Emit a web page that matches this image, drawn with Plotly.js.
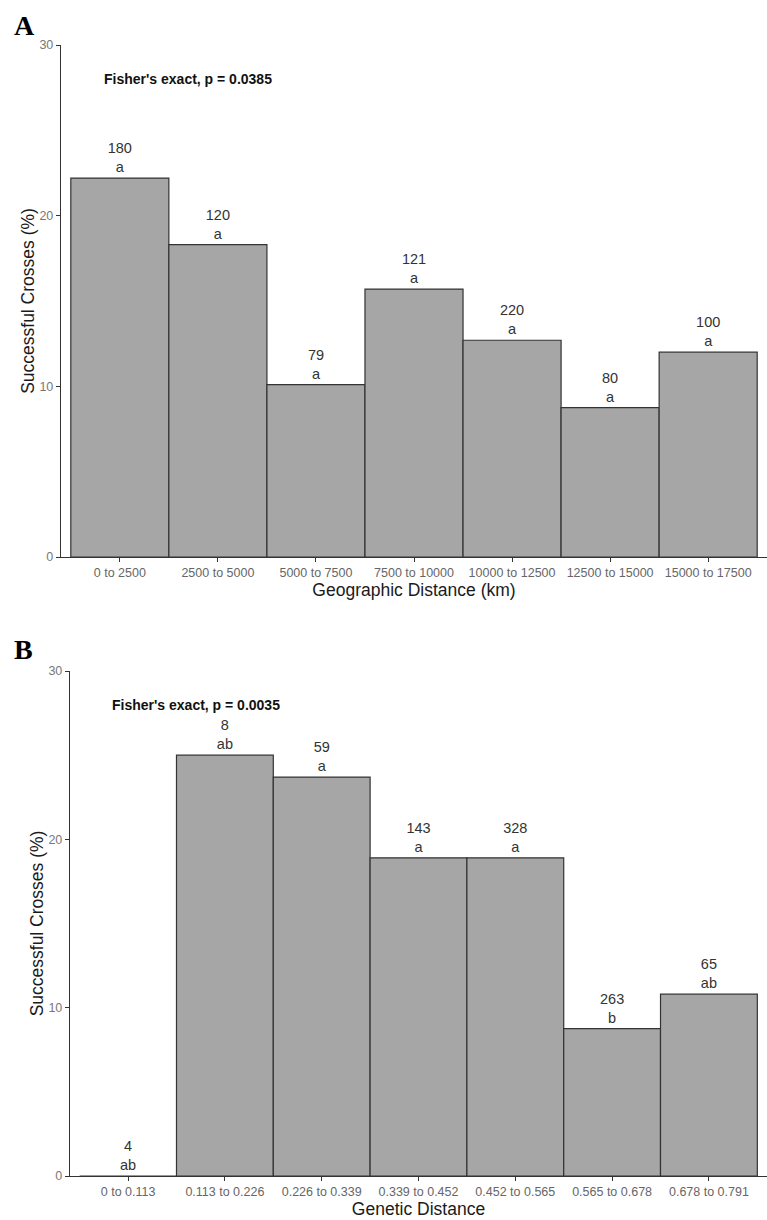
<!DOCTYPE html>
<html>
<head>
<meta charset="utf-8">
<script src="https://cdn.plot.ly/plotly-3.0.1.min.js"></script>
<style>
  html, body { margin: 0; padding: 0; background: #fff; }
  #chart { width: 767px; height: 1220px; }
</style>
</head>
<body>
<div id="chart"></div>
<script>
// Panel A: success rate of crosses binned by geographic distance
const geoBins = ["0 to 2500", "2500 to 5000", "5000 to 7500", "7500 to 10000",
                 "10000 to 12500", "12500 to 15000", "15000 to 17500"];
const geoPct = [22.2, 18.3, 10.1, 15.7, 12.7, 8.75, 12.0];
const geoN = [180, 120, 79, 121, 220, 80, 100];
const geoGroup = ["a", "a", "a", "a", "a", "a", "a"];

// Panel B: success rate of crosses binned by genetic distance
const genBins = ["0 to 0.113", "0.113 to 0.226", "0.226 to 0.339", "0.339 to 0.452",
                 "0.452 to 0.565", "0.565 to 0.678", "0.678 to 0.791"];
const genPct = [0, 25.0, 23.7, 18.9, 18.9, 8.75, 10.8];
const genN = [4, 8, 59, 143, 328, 263, 65];
const genGroup = ["ab", "ab", "a", "a", "a", "b", "ab"];

const yTicks = [0, 10, 20, 30];

const SANS = "'Liberation Sans', Arial, sans-serif";

// two-line label over each bar: number of crosses, then significance group
function labels(n, g) {
  return n.map((v, i) => v + "<br>" + g[i]);
}

function barTrace(x, y, n, g, xa, ya) {
  return {
    type: "bar",
    x: x, y: y,
    xaxis: xa, yaxis: ya,
    width: 1,
    marker: { color: "#a6a6a6", line: { color: "#333333", width: 1.2 } },
    text: labels(n, g),
    textposition: "outside",
    cliponaxis: false,
    textfont: { family: SANS, size: 14.5, color: "#333333" },
    hoverinfo: "x+y",
    showlegend: false
  };
}

const H = 1220, W = 767;

function xAxis(domainLeft, anchor, title) {
  return {
    domain: [domainLeft / W, 1],
    anchor: anchor,
    type: "category",
    range: [-0.6, 6.6],
    showline: true, linecolor: "#333333", linewidth: 1.2,
    ticks: "outside", ticklen: 4, tickcolor: "#333333", tickwidth: 1,
    tickangle: 0,
    tickfont: { family: SANS, size: 12.5, color: "#666666" },
    showgrid: false, zeroline: false,
    title: { text: title, font: { family: SANS, size: 17.5, color: "#1a1a1a" }, standoff: 3 },
    automargin: false
  };
}

function yAxis(top, bottom, anchor) {
  return {
    domain: [1 - bottom / H, 1 - top / H],
    anchor: anchor,
    range: [0, 30],
    tickvals: yTicks,
    showline: true, linecolor: "#333333", linewidth: 1.2,
    ticks: "outside", ticklen: 4, tickcolor: "#333333", tickwidth: 1,
    tickfont: { family: SANS, size: 12.5, color: "#777777" },
    showgrid: false, zeroline: false,
    title: { text: "Successful Crosses (%)", font: { family: SANS, size: 17.5, color: "#1a1a1a" }, standoff: 0 },
    automargin: false
  };
}

const data = [
  barTrace(geoBins, geoPct, geoN, geoGroup, "x", "y"),
  barTrace(genBins, genPct, genN, genGroup, "x2", "y2")
];

const layout = {
  width: W, height: H,
  margin: { l: 0, r: 0, t: 0, b: 0 },
  paper_bgcolor: "#ffffff",
  plot_bgcolor: "#ffffff",
  bargap: 0,
  xaxis: xAxis(61, "y", "Geographic Distance (km)"),
  yaxis: yAxis(45, 557, "x"),
  xaxis2: xAxis(70, "y2", "Genetic Distance"),
  yaxis2: yAxis(671, 1176, "x2"),
  annotations: [
    { xref: "x", yref: "y", x: 0.7, y: 28, text: "Fisher's exact, p = 0.0385",
      showarrow: false, font: { family: SANS, size: 14, color: "#111111", weight: "bold" } },
    { xref: "x2", yref: "y2", x: 0.7, y: 28, text: "Fisher's exact, p = 0.0035",
      showarrow: false, font: { family: SANS, size: 14, color: "#111111", weight: "bold" } },
    { xref: "paper", yref: "paper", x: 12 / W, y: 1 - 8 / H, xanchor: "left", yanchor: "top",
      text: "<b>A</b>", showarrow: false,
      font: { family: "'Liberation Serif', 'Times New Roman', serif", size: 28, color: "#000000" } },
    { xref: "paper", yref: "paper", x: 12 / W, y: 1 - 632 / H, xanchor: "left", yanchor: "top",
      text: "<b>B</b>", showarrow: false,
      font: { family: "'Liberation Serif', 'Times New Roman', serif", size: 28, color: "#000000" } }
  ]
};

Plotly.newPlot("chart", data, layout, { displayModeBar: false, staticPlot: true });
</script>
</body>
</html>
